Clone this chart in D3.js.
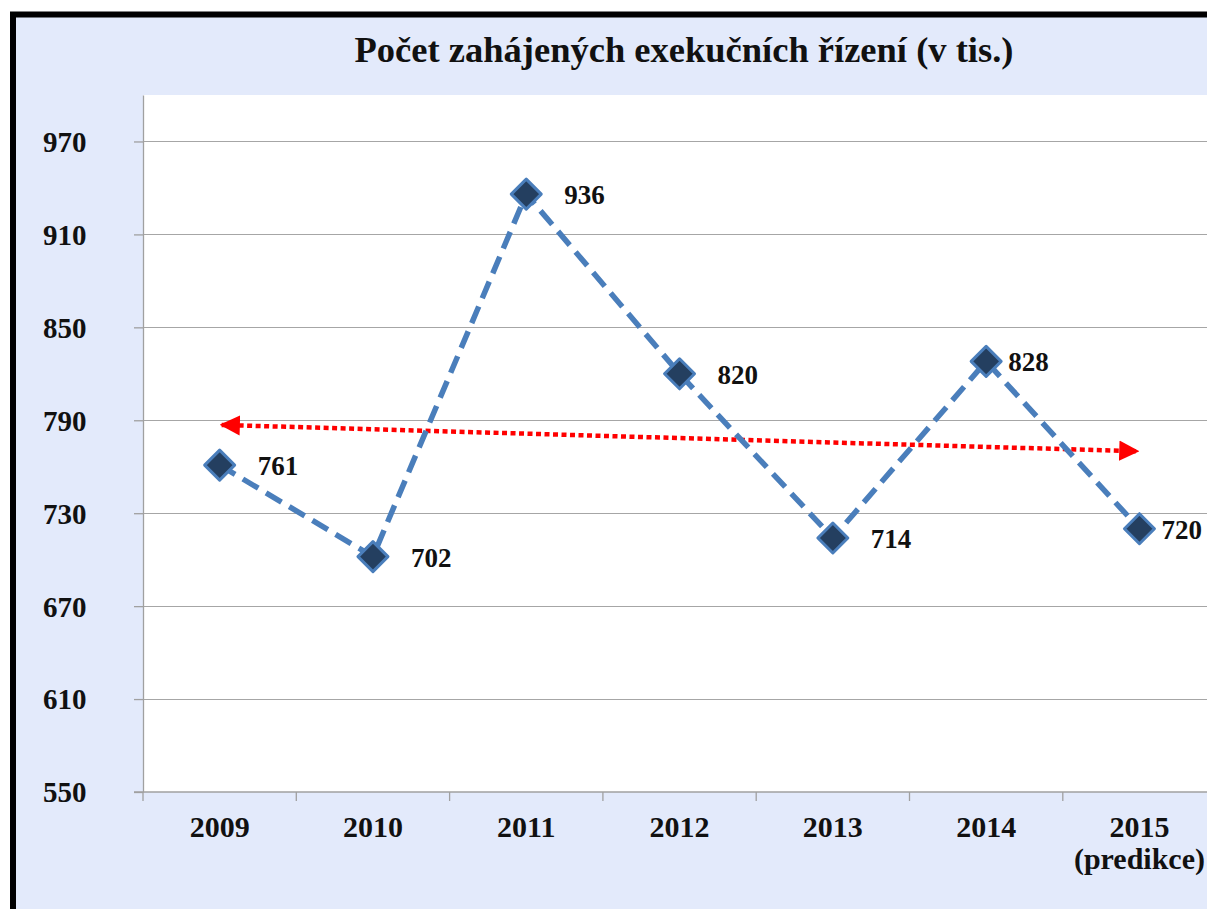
<!DOCTYPE html>
<html>
<head>
<meta charset="utf-8">
<script src="https://cdn.jsdelivr.net/npm/d3@7"></script>
<style>
  html, body { margin: 0; padding: 0; background: #fff; overflow: hidden; }
  #chart { width: 1207px; height: 909px; }
  text { font-family: "Liberation Serif", "Times New Roman", serif; font-weight: bold; fill: #111; }
</style>
</head>
<body>
<div id="chart"></div>
<script>
// chart data
const years = ["2009", "2010", "2011", "2012", "2013", "2014", "2015"];
const yearNotes = ["", "", "", "", "", "", "(predikce)"];
const counts = [761, 702, 936, 820, 714, 828, 720];
const yTicks = [550, 610, 670, 730, 790, 850, 910, 970];
// trend arrow end values (first and last year)
const trendValues = [787, 770];
const labelShift = [38, 38, 38, 38, 38, 22, 22];

const title = "Počet zahájených exekučních řízení (v tis.)";

const W = 1207, H = 909;
const margin = { top: 95, left: 143, bottom: 117 };
const plotW = 153.3 * years.length;
const plotH = H - margin.top - margin.bottom;

const svg = d3.select("#chart").append("svg")
    .attr("width", W)
    .attr("height", H);

// outer frame
svg.append("rect")
   .attr("x", 13).attr("y", 14.5)
   .attr("width", W + 20).attr("height", H + 20)
   .attr("fill", "#e3eafb")
   .attr("stroke", "#000")
   .attr("stroke-width", 6);

// title
svg.append("text")
   .attr("x", 684).attr("y", 62)
   .attr("text-anchor", "middle")
   .style("font-size", "36.5px")
   .text(title);

// scales
const x = d3.scaleBand()
            .domain(years)
            .range([0, plotW]);

const y = d3.scaleLinear()
            .domain([550, 1000])
            .range([plotH, 0]);

const g = svg.append("g")
             .attr("transform", `translate(${margin.left},${margin.top})`);

// plot area
g.append("rect")
 .attr("width", plotW).attr("height", plotH)
 .attr("fill", "#fff");

// grid lines
g.append("g")
 .selectAll("line")
 .data(yTicks.slice(1))
 .join("line")
 .attr("x1", 0).attr("x2", plotW)
 .attr("y1", d => Math.round(y(d)) + 0.5)
 .attr("y2", d => Math.round(y(d)) + 0.5)
 .attr("stroke", "#a6a6a6")
 .attr("stroke-width", 1.2);

// y axis
const yAxis = g.append("g")
 .call(d3.axisLeft(y).tickValues(yTicks).tickSize(9).tickSizeOuter(0));
yAxis.selectAll("text")
     .style("font-size", "29px")
     .attr("fill", "#111")
     .attr("text-anchor", "start")
     .attr("x", -100)
     .attr("dy", "0.34em");
yAxis.selectAll("line, path").attr("stroke", "#a0a0a0").attr("stroke-width", 1.3);

// x axis (ticks at band edges)
const xAxis = g.append("g")
 .attr("transform", `translate(0,${plotH})`);
xAxis.append("line")
 .attr("x1", -9).attr("x2", plotW)
 .attr("stroke", "#a0a0a0").attr("stroke-width", 1.3);
xAxis.selectAll(".edge")
 .data(years)
 .join("line")
 .attr("class", "edge")
 .attr("x1", d => x(d)).attr("x2", d => x(d))
 .attr("y1", 0).attr("y2", 9)
 .attr("stroke", "#a0a0a0").attr("stroke-width", 1.3);

const xLabels = xAxis.selectAll(".lab")
 .data(years)
 .join("text")
 .attr("class", "lab")
 .attr("text-anchor", "middle")
 .style("font-size", "30px")
 .attr("transform", d => `translate(${x(d) + x.bandwidth() / 2},45)`);
xLabels.append("tspan").attr("x", 0).attr("y", 0).text(d => d);
xLabels.append("tspan").attr("x", 0).attr("y", 32).text((d, i) => yearNotes[i]);

const cx = d => x(d) + x.bandwidth() / 2;

// trend arrow
const defs = svg.append("defs");
defs.append("marker")
    .attr("id", "arrow")
    .attr("viewBox", "0 0 10 10")
    .attr("refX", 9).attr("refY", 5)
    .attr("markerWidth", 4.5).attr("markerHeight", 5)
    .attr("markerUnits", "strokeWidth")
    .attr("orient", "auto-start-reverse")
    .append("path")
    .attr("d", "M0,0 L10,5 L0,10 Z")
    .attr("fill", "#ff0000");

g.append("line")
 .attr("x1", cx(years[0]) + 2).attr("y1", y(trendValues[0]))
 .attr("x2", cx(years[years.length - 1]) - 2).attr("y2", y(trendValues[1]))
 .attr("stroke", "#ff0000")
 .attr("stroke-width", 4.5)
 .attr("stroke-dasharray", "5 3.5")
 .attr("marker-start", "url(#arrow)")
 .attr("marker-end", "url(#arrow)");

// series line
const line = d3.line()
               .x((d, i) => cx(years[i]))
               .y(d => y(d));

g.append("path")
 .datum(counts)
 .attr("d", line)
 .attr("fill", "none")
 .attr("stroke", "#4a7ebb")
 .attr("stroke-width", 5.5)
 .attr("stroke-dasharray", "18 9");

// diamond markers
const r = 15;
g.selectAll(".pt")
 .data(counts)
 .join("path")
 .attr("class", "pt")
 .attr("d", `M0,${-r} L${r},0 L0,${r} L${-r},0 Z`)
 .attr("transform", (d, i) => `translate(${cx(years[i])},${y(d)})`)
 .attr("fill", "#243f60")
 .attr("stroke", "#4a7ebb")
 .attr("stroke-width", 3)
 .attr("stroke-linejoin", "round");

// value labels
g.selectAll(".val")
 .data(counts)
 .join("text")
 .attr("class", "val")
 .attr("x", (d, i) => cx(years[i]) + labelShift[i])
 .attr("y", d => y(d) + 10)
 .style("font-size", "27px")
 .text(d => d);
</script>
</body>
</html>
